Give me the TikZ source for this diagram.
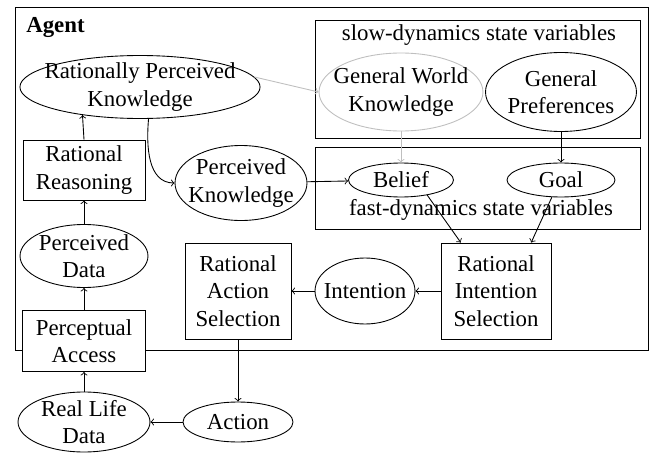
\documentclass[tikz,border=0pt]{standalone}
\usepackage{fontspec}
\setmainfont{Liberation Serif}
\usetikzlibrary{shapes.geometric}
\definecolor{fadegray}{rgb}{0.75,0.75,0.75}

\begin{document}
\begin{tikzpicture}[x=0.02cm,y=-0.02cm,line width=0.5pt,
  font=\fontsize{13}{15.5}\selectfont,
  box/.style={draw,fill=white,align=center},
  ellip/.style={ellipse,draw,fill=white,align=center,inner xsep=-6pt,inner ysep=-3pt}]
\useasboundingbox (0,0) rectangle (650,453);

% frames
\draw (15,7) rectangle (648,350);
\draw (315,20) rectangle (640,138);
\draw (315,147) rectangle (640,229);
\node[anchor=west,font=\fontsize{13}{15.5}\selectfont\bfseries] (agent) at (20,27) {Agent};
\node (slow) at (479,35) {slow-dynamics state variables};
\node (fast) at (481,210) {fast-dynamics state variables};

% perception side
\node[ellip,minimum width=2.64cm,minimum height=1.2cm] (rld) at (84,422) {Real Life\\Data};
\node[box,minimum width=2.46cm,minimum height=1.22cm] (pa) at (84,341) {Perceptual\\Access};
\node[ellip,minimum width=2.56cm,minimum height=1.26cm] (pd) at (84,256) {Perceived\\Data};
\node[box,minimum width=2.44cm,minimum height=1.2cm] (rr) at (84,170) {Rational\\Reasoning};
\node[ellip,minimum width=4.7cm,minimum height=1.26cm] (rpk) at (140,87) {Rationally Perceived\\Knowledge};
\node[ellip,minimum width=2.64cm,minimum height=1.5cm] (pk) at (241,183) {Perceived\\Knowledge};

% state variables
\node[ellip,draw=fadegray,minimum width=3.28cm,minimum height=1.56cm] (gwk) at (401,92) {General World\\Knowledge};
\node[ellip,minimum width=3.02cm,minimum height=1.58cm] (gp) at (561,92) {General\\Preferences};
\node[ellip,minimum width=2.1cm,minimum height=0.68cm] (belief) at (401,180) {Belief};
\node[ellip,minimum width=2.16cm,minimum height=0.68cm] (goal) at (561,180) {Goal};

% action side
\node[box,minimum width=2.2cm,minimum height=1.92cm] (ris) at (496,291) {Rational\\Intention\\Selection};
\node[ellip,minimum width=2cm,minimum height=1.32cm] (intention) at (365,291) {Intention};
\node[box,minimum width=2.12cm,minimum height=1.92cm] (ras) at (238,291) {Rational\\Action\\Selection};
\node[ellip,minimum width=2.2cm,minimum height=0.8cm] (action) at (238,422) {Action};

\draw[->] (rld) -- (pa);
\draw[->] (pa) -- (pd);
\draw[->] (pd) -- (rr);
\draw[->] (rr.north) -- (rpk.206);
\draw[->] (rpk.-75) to[out=-95,in=180] (pk.west);
\draw[->,fadegray] (rpk.5) -- (gwk.west);
\draw[->,fadegray] (gwk) -- (belief);
\draw[->] (gp) -- (goal);
\draw[->] (pk) -- (belief);
\draw[->] (belief.-30) -- (ris.126);
\draw[->] (goal.-118) -- (ris.54);
\draw[->] (ris) -- (intention);
\draw[->] (intention) -- (ras);
\draw[->] (ras) -- (action);
\draw[->] (action) -- (rld);
\end{tikzpicture}
\end{document}
